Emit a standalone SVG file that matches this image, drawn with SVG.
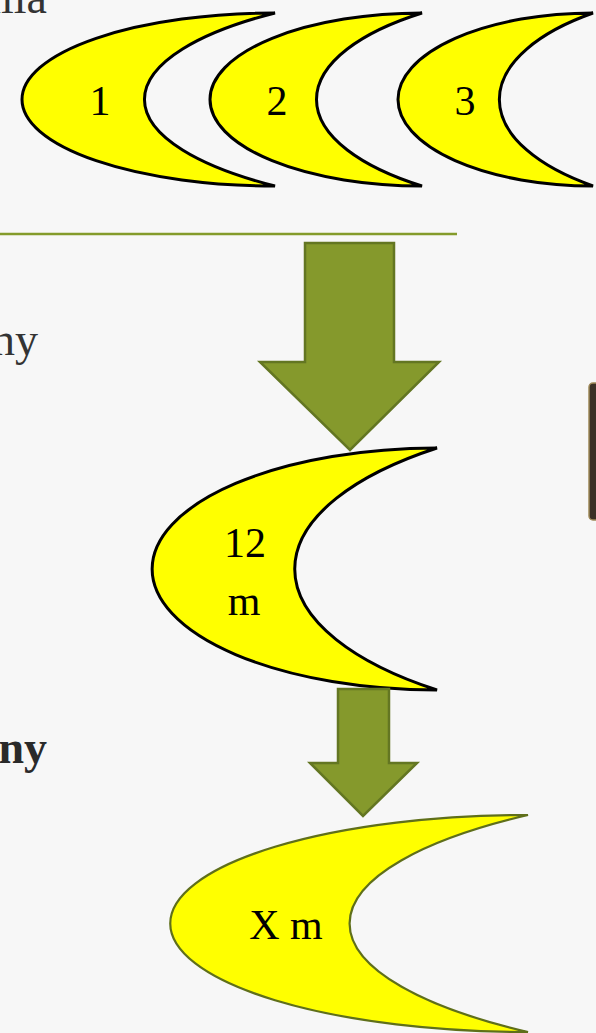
<svg xmlns="http://www.w3.org/2000/svg" width="596" height="1033" viewBox="0 0 596 1033">
<style>
.moon{fill:#ffff00;stroke:#000;stroke-width:3;stroke-linejoin:miter}
.moonx{fill:#ffff00;stroke:#5f6f1a;stroke-width:2.2}
.arrow{fill:#85992c;stroke:#637622;stroke-width:2.5}
.lbl{font-family:"Liberation Serif",serif;font-size:42px;fill:#000;text-anchor:middle}
.side{font-family:"Liberation Serif",serif;font-size:46px;fill:#333;text-anchor:end}
</style>
<rect width="596" height="1033" fill="#f7f7f7"/>
<text class="side" x="47" y="13" font-size="38">illa</text>
<text class="side" x="38" y="355">ny</text>
<text class="side" x="47" y="763" font-weight="bold" style="font-size:46px;fill:#2a2a2a">ny</text>
<line x1="0" y1="234" x2="457" y2="234" stroke="#849b2b" stroke-width="2.5"/>
<rect x="589" y="383" width="20" height="137" rx="4" fill="#3b3127" stroke="#a08a5a" stroke-width="1.5"/>
<g id="moon1">
<path class="moon" d="M275,13 A253,86.5 0 0 0 275,186 A341.5,110 0 0 1 275,13 Z"/>
<text class="lbl" x="100" y="115">1</text>
</g>
<g id="moon2">
<path class="moon" d="M422,13 A212,86.5 0 0 0 422,186 A276,110 0 0 1 422,13 Z"/>
<text class="lbl" x="277" y="115">2</text>
</g>
<g id="moon3">
<path class="moon" d="M593,13 A195,86.5 0 0 0 593,186 A245,110 0 0 1 593,13 Z"/>
<text class="lbl" x="465" y="115">3</text>
</g>
<g id="moon12">
<path class="moon" d="M437,448 A285,121 0 0 0 437,690 A373,154 0 0 1 437,448 Z"/>
<text class="lbl" x="245" y="557">12</text>
<text class="lbl" x="244" y="615">m</text>
</g>
<g id="moonX">
<path class="moonx" d="M528,815 A358,108.5 0 0 0 528,1032 A467,138 0 0 1 528,815 Z"/>
<text class="lbl" x="286" y="939">X m</text>
</g>
<g id="connectors">
<path class="arrow" d="M305,243 H394 V362 H439 L350,450 L260,362 H305 Z"/>
<path class="arrow" d="M338,689 H389 V763 H417 L363,816 L310,763 H338 Z"/>
</g>
</svg>
